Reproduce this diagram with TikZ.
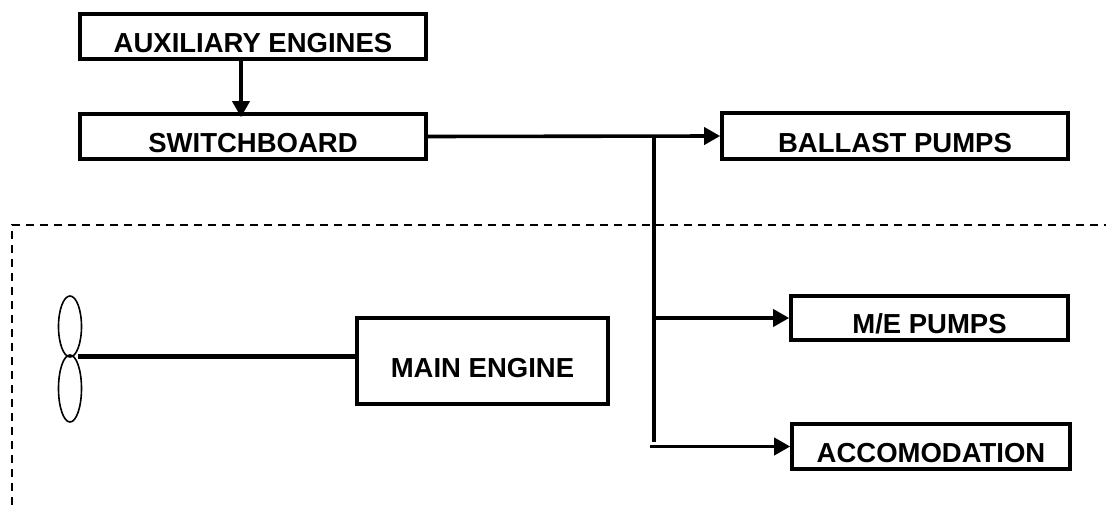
\documentclass[tikz,border=0pt]{standalone}
\usepackage{fontspec}
\setmainfont{Liberation Sans}
\usetikzlibrary{shapes.geometric, arrows.meta, positioning, calc}

\tikzset{
    unit/.style={draw, line width=3.6pt, inner sep=0pt, align=center,
        font=\fontsize{27.5}{30}\selectfont\bfseries},
    wire/.style={line width=3.6pt},
    feed/.style={wire, -{Triangle[length=16pt, width=17pt]}},
    blade/.style={draw, line width=1.6pt, ellipse, inner sep=0pt,
        minimum width=23pt}
}

\begin{document}
\begin{tikzpicture}[x=1pt, y=-1pt]
\useasboundingbox (0,0) rectangle (1106,505);

% Generating side
\node[unit, minimum width=346pt, text height=39pt, text depth=6pt] (aux) at (253,36.5) {AUXILIARY ENGINES};
\node[unit, minimum width=346pt, text height=39pt, text depth=6pt] (switch) at (253,136.5) {SWITCHBOARD};

% Consumers
\node[unit, minimum width=346pt, text height=40pt, text depth=6pt] (ballast) at (895,136) {BALLAST PUMPS};
\node[unit, minimum width=277pt, text height=37pt, text depth=7pt] (mepumps) at (929.5,318) {M/E PUMPS};
\node[unit, minimum width=278pt, text height=38pt, text depth=7pt] (accom) at (931,446.5) {ACCOMODATION};

% Engine room boundary
\draw[line width=1.6pt, dash pattern=on 8pt off 6pt] (12,505) -- (12,225) -- (1106,225);

% Propulsion
\node[unit, minimum width=251pt, text height=59pt, text depth=27pt] (main) at (482.5,361) {MAIN ENGINE};
\node[blade, minimum height=61pt] (bladeup) at (70,326.5) {};
\node[blade, minimum height=67pt] (bladedown) at (70,388.5) {};
\coordinate (hub) at (78,356);
\draw[line width=5pt] (hub) -- (hub -| main.west);

% Distribution
\draw[feed, shorten >=-5pt] ([xshift=-12pt]aux.south) -- ([xshift=-12pt]switch.north);
\draw[feed] (switch.east) -- (ballast.west);
\coordinate (junc) at (654,136);
\coordinate (busend) at (654,442);
\coordinate (accstart) at (650,446.5);
\draw[wire] (junc) -- (busend);
\draw[feed] (junc |- mepumps.west) -- (mepumps.west);
\draw[feed] (accstart) -- (accom.west);
\end{tikzpicture}
\end{document}
